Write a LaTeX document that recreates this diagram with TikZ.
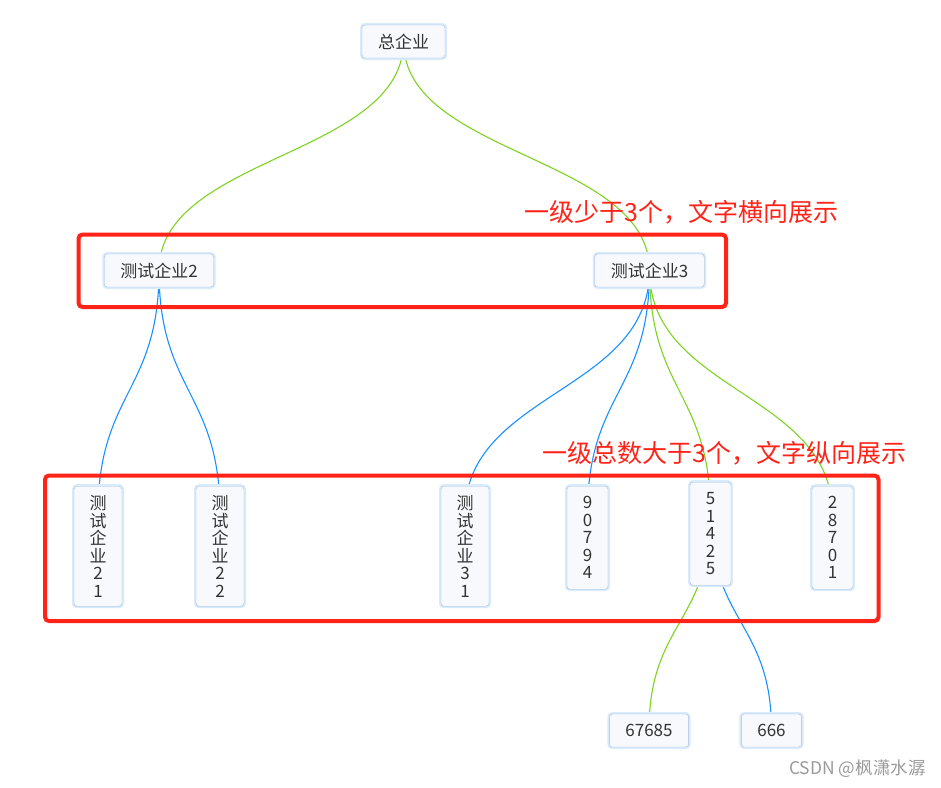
\documentclass[tikz,border=0pt]{standalone}
\usepackage{fontspec}
\setmainfont{Noto Sans CJK SC}
\usetikzlibrary{calc,backgrounds}
\definecolor{xianlv}{HTML}{7ED321}
\definecolor{xianlan}{HTML}{1890FF}
\definecolor{kuanghong}{HTML}{FF2318}
\definecolor{biankuang}{HTML}{9EBFE3}
\definecolor{tianchong}{HTML}{F7F9FC}
\definecolor{guangyun}{HTML}{D9EAFB}
\definecolor{wenzi}{HTML}{333333}
\definecolor{huise}{HTML}{9A9A9A}

\begin{document}
\begin{tikzpicture}[x=1pt,y=-1pt]
\tikzset{qiye/.style={draw=biankuang, fill=tianchong, rounded corners=3pt, text=wenzi, font=\fontsize{17}{17.5}\selectfont, inner xsep=16pt, inner ysep=0pt, minimum height=33pt, preaction={draw=guangyun, line width=4pt}},
shu/.style={qiye, align=center, inner xsep=0pt, anchor=north},
hongkuang/.style={draw=kuanghong, line width=4pt, rounded corners=4pt},
biaozhu/.style={text=kuanghong, font=\fontsize{25}{25}\selectfont, inner sep=0pt, anchor=west},
lianxian/.style={line width=1.1pt, to path={let \p1=(\tikztostart), \p2=(\tikztotarget), \p3=($(\tikztostart)!0.5!(\tikztotarget)$) in .. controls (\x1,\y3) and (\x2,\y3) .. (\tikztotarget)}}}
\useasboundingbox (0,0) rectangle (941,787);
\node[qiye] (zong) at (403.5,41.5) {总企业};
\node[qiye] (qy2) at (159,270.5) {测试企业2};
\node[qiye] (qy3) at (649.5,270.5) {测试企业3};
\node[shu, minimum width=48pt, minimum height=120pt] (qy21) at (98,486) {测\\试\\企\\业\\2\\1};
\node[shu, minimum width=48pt, minimum height=120pt] (qy22) at (220,486) {测\\试\\企\\业\\2\\2};
\node[shu, minimum width=48pt, minimum height=120pt] (qy31) at (465,486) {测\\试\\企\\业\\3\\1};
\node[shu, minimum width=41pt, minimum height=103pt] (n90794) at (587.5,486) {9\\0\\7\\9\\4};
\node[shu, minimum width=41pt, minimum height=103pt] (n51425) at (710.5,482) {5\\1\\4\\2\\5};
\node[shu, minimum width=41pt, minimum height=103pt] (n28701) at (832.5,486) {2\\8\\7\\0\\1};
\node[qiye] (n67685) at (649,730.5) {67685};
\node[qiye] (n666) at (771.5,730.5) {666};
\coordinate (d21) at (qy21.north |- 0,514);
\coordinate (d22) at (qy22.north |- 0,514);
\coordinate (d31) at (qy31.north |- 0,514);
\coordinate (d90794) at (n90794.north |- 0,514);
\coordinate (d51425) at (n51425.north |- 0,514);
\coordinate (d28701) at (n28701.north |- 0,514);
\begin{pgfonlayer}{background}
\draw[xianlv, lianxian] (zong.center) to (qy2.center);
\draw[xianlv, lianxian] (zong.center) to (qy3.center);
\draw[xianlan, lianxian] (qy2.center) to (d21);
\draw[xianlan, lianxian] (qy2.center) to (d22);
\draw[xianlan, lianxian] (qy3.center) to (d31);
\draw[xianlan, lianxian] (qy3.center) to (d90794);
\draw[xianlv, lianxian] (qy3.center) to (d51425);
\draw[xianlv, lianxian] (qy3.center) to (d28701);
\draw[xianlv, lianxian] (d51425) to (n67685.center);
\draw[xianlan, lianxian] (d51425) to (n666.center);
\end{pgfonlayer}
\draw[hongkuang] (78.5,234.5) rectangle (726,307);
\draw[hongkuang] (45,475.5) rectangle (878.5,621);
\node[biaozhu] (zhu1) at (524,212) {一级少于3个，文字横向展示};
\node[biaozhu] (zhu2) at (542,453) {一级总数大于3个，文字纵向展示};
\node[anchor=west, text=huise, font=\fontsize{17.5}{17.5}\selectfont, inner sep=0pt] (shuiyin) at (789,769) {CSDN @枫潇水潺};
\end{tikzpicture}
\end{document}
